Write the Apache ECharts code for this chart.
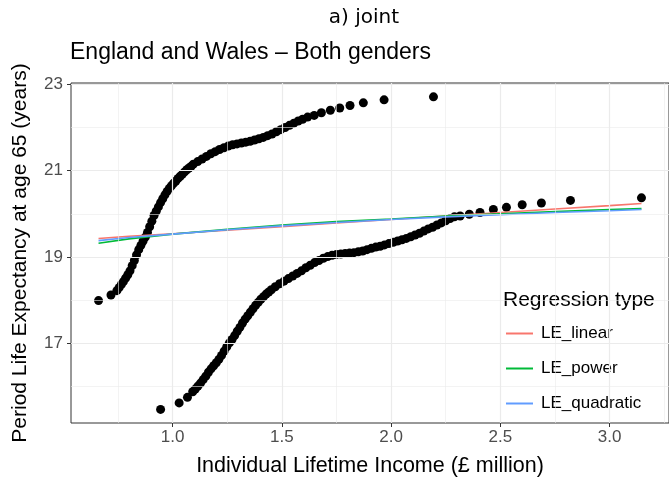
<!DOCTYPE html>
<html>
<head>
<meta charset="utf-8">
<script src="https://cdn.jsdelivr.net/npm/echarts@6/dist/echarts.min.js"></script>
<style>
  html, body { margin: 0; padding: 0; background: #fff; }
  #chart { width: 669px; height: 478px; }
</style>
</head>
<body>
<div id="chart"></div>
<script>
// upper cloud of points (period LE vs income)
const upperX = [0.661, 0.718,
  0.745, 0.755, 0.765, 0.775, 0.785, 0.795, 0.805, 0.815, 0.825, 0.835, 0.845, 0.855, 0.865, 0.875,
  0.885, 0.895, 0.905, 0.915, 0.925, 0.935, 0.945, 0.955, 0.965, 0.975, 0.985, 0.995, 1.005, 1.015,
  1.025, 1.035, 1.045, 1.055, 1.065, 1.075, 1.085, 1.095,
  1.115, 1.135, 1.155, 1.175, 1.195, 1.215, 1.235, 1.255, 1.275, 1.295, 1.315, 1.335, 1.355, 1.375,
  1.395, 1.415, 1.435, 1.455, 1.475, 1.495, 1.515, 1.535, 1.555, 1.575, 1.595,
  1.618, 1.648, 1.681, 1.722, 1.765, 1.812, 1.873, 1.968, 2.194];
const upperY = [17.99, 18.12,
  18.22, 18.29, 18.36, 18.43, 18.51, 18.59, 18.68, 18.80, 18.92, 19.05, 19.17, 19.27, 19.37, 19.46,
  19.57, 19.70, 19.83, 19.96, 20.06, 20.16, 20.26, 20.35, 20.44, 20.52, 20.59, 20.65, 20.71, 20.76,
  20.82, 20.87, 20.92, 20.97, 21.02, 21.06, 21.10, 21.15,
  21.21, 21.27, 21.33, 21.39, 21.44, 21.49, 21.53, 21.57, 21.60, 21.62, 21.64, 21.66, 21.68, 21.71,
  21.74, 21.77, 21.81, 21.85, 21.90, 21.95, 22.00, 22.05, 22.10, 22.15, 22.19,
  22.24, 22.28, 22.34, 22.40, 22.45, 22.51, 22.57, 22.64, 22.71];

// lower cloud of points
const lowerX = [0.945, 1.030, 1.068,
  1.092, 1.104, 1.116, 1.128, 1.140, 1.152, 1.164, 1.176, 1.188, 1.200, 1.212, 1.224, 1.236, 1.248,
  1.260, 1.272, 1.284, 1.296, 1.308, 1.320, 1.332, 1.344, 1.356, 1.368, 1.380, 1.392, 1.404, 1.416,
  1.428, 1.440, 1.452,
  1.470, 1.490, 1.510, 1.530, 1.550, 1.570, 1.590, 1.610, 1.630, 1.650, 1.670, 1.690, 1.710, 1.730,
  1.750, 1.770, 1.790, 1.810, 1.830, 1.850, 1.870, 1.890, 1.910, 1.930, 1.950, 1.970, 1.990, 2.010,
  2.030, 2.050, 2.070, 2.090, 2.110, 2.130, 2.150, 2.170, 2.190, 2.210, 2.230, 2.250, 2.270, 2.290,
  2.316, 2.358, 2.407, 2.468, 2.528, 2.600, 2.688, 2.821, 3.146];
const lowerY = [15.47, 15.62, 15.75,
  15.88, 15.94, 16.01, 16.08, 16.16, 16.24, 16.33, 16.41, 16.48, 16.55, 16.63, 16.72, 16.82, 16.92,
  17.01, 17.09, 17.18, 17.28, 17.37, 17.47, 17.56, 17.64, 17.72, 17.80, 17.88, 17.95, 18.02, 18.08,
  18.14, 18.19, 18.24,
  18.31, 18.38, 18.44, 18.50, 18.56, 18.62, 18.68, 18.75, 18.81, 18.87, 18.92, 18.97, 19.01, 19.04,
  19.06, 19.07, 19.08, 19.09, 19.10, 19.12, 19.14, 19.17, 19.20, 19.23, 19.25, 19.28, 19.31, 19.34,
  19.37, 19.40, 19.43, 19.47, 19.51, 19.55, 19.60, 19.65, 19.69, 19.74, 19.79, 19.84, 19.89, 19.93,
  19.95, 19.99, 20.03, 20.10, 20.15, 20.21, 20.25, 20.31, 20.37];

// fitted regression curves
const fitX = [0.661, 0.8, 1.0, 1.25, 1.5, 1.75, 2.0, 2.25, 2.5, 2.75, 3.0, 3.146];
const linearY = [19.43, 19.48, 19.54, 19.62, 19.70, 19.79, 19.87, 19.95, 20.03, 20.11, 20.19, 20.24];
const powerY = [19.32, 19.42, 19.53, 19.64, 19.74, 19.82, 19.88, 19.95, 20.00, 20.05, 20.10, 20.12];
const quadY = [19.38, 19.45, 19.53, 19.63, 19.72, 19.80, 19.87, 19.93, 19.98, 20.03, 20.07, 20.10];

const xTicks = [1.0, 1.5, 2.0, 2.5, 3.0];
const xMinor = [0.75, 1.25, 1.75, 2.25, 2.75, 3.25];
const yTicks = [17, 19, 21, 23];
const yMinor = [16, 18, 20, 22];

const FONT = '"Liberation Sans", Arial, sans-serif';
const GRID_COLOR = "#ebebeb";

const zip = (xs, ys) => xs.map((x, i) => [x, ys[i]]);

const chart = echarts.init(document.getElementById("chart"), null, { renderer: "canvas" });

const gridLines = [
  ...xMinor.map((v) => ({ xAxis: v, lineStyle: { color: GRID_COLOR, width: 0.6, type: "solid" } })),
  ...yMinor.map((v) => ({ yAxis: v, lineStyle: { color: GRID_COLOR, width: 0.6, type: "solid" } })),
  ...xTicks.map((v) => ({ xAxis: v, lineStyle: { color: GRID_COLOR, width: 1.2, type: "solid" } })),
  ...yTicks.map((v) => ({ yAxis: v, lineStyle: { color: GRID_COLOR, width: 1.2, type: "solid" } })),
];

const fitSeries = (name, ys, color) => ({
  name,
  type: "line",
  data: zip(fitX, ys),
  smooth: false,
  showSymbol: false,
  symbol: "none",
  lineStyle: { color, width: 1.6 },
  itemStyle: { color },
  z: 4,
});

const dots = (xs, ys) => ({
  type: "scatter",
  data: zip(xs, ys),
  symbolSize: 9,
  itemStyle: { color: "#000", opacity: 1 },
  z: 3,
});

chart.setOption({
  animation: false,
  backgroundColor: "#fff",
  grid: {
    left: 71,
    top: 83,
    width: 601,
    height: 340,
    show: true,
    borderColor: "#333",
    borderWidth: 1,
    backgroundColor: "transparent",
  },
  graphic: [
    {
      type: "text",
      x: 364,
      y: 18,
      style: {
        text: "a) joint",
        font: '20px "DejaVu Sans", sans-serif',
        fill: "#000",
        align: "center",
        verticalAlign: "middle",
      },
    },
    {
      type: "text",
      x: 70,
      y: 53,
      style: {
        text: "England and Wales \u2013 Both genders",
        font: "23px " + FONT,
        fill: "#000",
        verticalAlign: "middle",
      },
    },
    {
      type: "text",
      x: 20,
      y: 253,
      rotation: Math.PI / 2,
      style: {
        text: "Period Life Expectancy at age 65 (years)",
        font: "21px " + FONT,
        fill: "#000",
        align: "center",
        verticalAlign: "middle",
      },
    },
    {
      type: "text",
      x: 370,
      y: 466,
      style: {
        text: "Individual Lifetime Income (\u00a3 million)",
        font: "21.5px " + FONT,
        fill: "#000",
        align: "center",
        verticalAlign: "middle",
      },
    },
    {
      type: "text",
      x: 503,
      y: 300,
      style: { text: "Regression type", font: "21px " + FONT, fill: "#000", verticalAlign: "middle" },
    },
  ],
  legend: {
    orient: "vertical",
    left: 501,
    top: 320,
    icon: "rect",
    itemWidth: 27,
    itemHeight: 2,
    itemGap: 18,
    data: ["LE_linear", "LE_power", "LE_quadratic"],
    textStyle: { fontFamily: FONT, fontSize: 17, color: "#000", lineHeight: 17, padding: [0, 0, 0, 3] },
  },
  xAxis: {
    type: "value",
    min: 0.535,
    max: 3.272,
    axisLine: { show: false },
    splitLine: { show: false },
    axisTick: { show: true, customValues: xTicks, length: 4, lineStyle: { color: "#333", width: 1 } },
    axisLabel: {
      customValues: xTicks,
      formatter: (v) => v.toFixed(1),
      color: "#4d4d4d",
      fontSize: 17,
      fontFamily: FONT,
      margin: 6,
    },
  },
  yAxis: {
    type: "value",
    min: 15.155,
    max: 23.03,
    axisLine: { show: false },
    splitLine: { show: false },
    axisTick: { show: true, customValues: yTicks, length: 4, lineStyle: { color: "#333", width: 1 } },
    axisLabel: {
      customValues: yTicks,
      color: "#4d4d4d",
      fontSize: 17,
      fontFamily: FONT,
      margin: 8,
    },
  },
  series: [
    {
      type: "line",
      data: [],
      silent: true,
      z: 1,
      markLine: {
        silent: true,
        symbol: "none",
        label: { show: false },
        animation: false,
        data: gridLines,
      },
    },
    dots(upperX, upperY),
    dots(lowerX, lowerY),
    fitSeries("LE_linear", linearY, "#F8766D"),
    fitSeries("LE_power", powerY, "#00BA38"),
    fitSeries("LE_quadratic", quadY, "#619CFF"),
  ],
});
</script>
</body>
</html>
